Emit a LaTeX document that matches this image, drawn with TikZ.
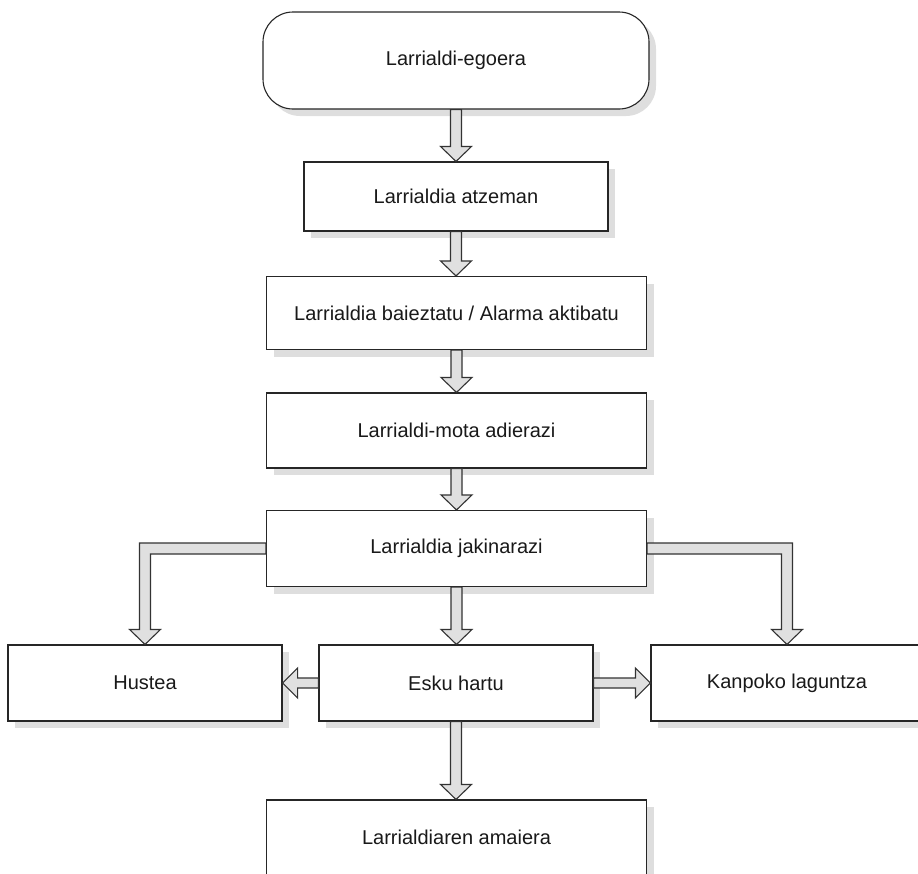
\documentclass[tikz,border=0pt]{standalone}
\usepackage{fontspec}
\setmainfont{Liberation Sans}
\usetikzlibrary{shadows,calc}
\tikzset{
  boxbase/.style={draw=black!85, line width=1.1pt, fill=white, inner sep=0pt, align=center,
    font=\fontsize{20}{24}\selectfont, text=black!90,
    drop shadow={shadow xshift=7pt, shadow yshift=-7pt, fill=black!13, opacity=1}},
  procbox/.style={boxbase, rectangle},
  startbox/.style={boxbase, rectangle, rounded corners=30pt},
  blockarrow/.style={draw=black!80, fill=black!12, line width=1.1pt, line join=miter}
}
\newcommand\vblk[2]{%
  \draw[blockarrow] let \p1=(#1.south), \p2=(#2.north) in
    ({\x1-5.5pt},{\y1}) -- ({\x1-5.5pt},{\y2+15pt}) -- ({\x1-15.5pt},{\y2+15pt}) --
    ({\x1},{\y2}) -- ({\x1+15.5pt},{\y2+15pt}) -- ({\x1+5.5pt},{\y2+15pt}) --
    ({\x1+5.5pt},{\y1}) -- cycle;}
\begin{document}
\begin{tikzpicture}[x=1pt, y=-1pt]
\useasboundingbox (0,0) rectangle (918,873);
\clip (0,0) rectangle (918,873);

\node[startbox, minimum width=386pt, minimum height=97pt] (n1) at (456,60.5) {Larrialdi-egoera};
\node[procbox, minimum width=304pt, minimum height=69pt] (n2) at (456,196.5) {Larrialdia atzeman};
\node[procbox, minimum width=380pt, minimum height=73pt] (n3) at (456.5,313) {Larrialdia baieztatu / Alarma aktibatu};
\node[procbox, minimum width=380pt, minimum height=75pt] (n4) at (456.5,430.5) {Larrialdi-mota adierazi};
\node[procbox, minimum width=380pt, minimum height=76pt] (n5) at (456.5,548.5) {Larrialdia jakinarazi};
\node[procbox, minimum width=274pt, minimum height=76pt] (hus) at (145,683) {Hustea};
\node[procbox, minimum width=274pt, minimum height=76pt] (esk) at (456,683) {Esku hartu};
\node[procbox, minimum width=272pt, minimum height=76pt] (kan) at (787,683) {Kanpoko laguntza};
\node[procbox, minimum width=380pt, minimum height=75pt] (fin) at (456.5,837.5) {Larrialdiaren amaiera};

\vblk{n1}{n2}
\vblk{n2}{n3}
\vblk{n3}{n4}
\vblk{n4}{n5}
\vblk{n5}{esk}
\vblk{esk}{fin}

% elbow arrows
\draw[blockarrow] let \p1=(n5.west), \p2=(hus.north) in
  ({\x1},{\y1+5.5pt}) -- ({\x2-5.5pt},{\y1+5.5pt}) -- ({\x2-5.5pt},{\y2+15pt}) --
  ({\x2-15.5pt},{\y2+15pt}) -- ({\x2},{\y2}) -- ({\x2+15.5pt},{\y2+15pt}) --
  ({\x2+5.5pt},{\y2+15pt}) -- ({\x2+5.5pt},{\y1-5.5pt}) -- ({\x1},{\y1-5.5pt}) -- cycle;
\draw[blockarrow] let \p1=(n5.east), \p2=(kan.north) in
  ({\x1},{\y1+5.5pt}) -- ({\x2+5.5pt},{\y1+5.5pt}) -- ({\x2+5.5pt},{\y2+15pt}) --
  ({\x2+15.5pt},{\y2+15pt}) -- ({\x2},{\y2}) -- ({\x2-15.5pt},{\y2+15pt}) --
  ({\x2-5.5pt},{\y2+15pt}) -- ({\x2-5.5pt},{\y1-5.5pt}) -- ({\x1},{\y1-5.5pt}) -- cycle;

% horizontal arrows
\draw[blockarrow] let \p1=(esk.west), \p2=(hus.east) in
  ({\x1},{\y1+5pt}) -- ({\x2+15pt},{\y1+5pt}) -- ({\x2+15pt},{\y1+15pt}) --
  ({\x2},{\y1}) -- ({\x2+15pt},{\y1-15pt}) -- ({\x2+15pt},{\y1-5pt}) --
  ({\x1},{\y1-5pt}) -- cycle;
\draw[blockarrow] let \p1=(esk.east), \p2=(kan.west) in
  ({\x1},{\y1+5pt}) -- ({\x2-15pt},{\y1+5pt}) -- ({\x2-15pt},{\y1+15pt}) --
  ({\x2},{\y1}) -- ({\x2-15pt},{\y1-15pt}) -- ({\x2-15pt},{\y1-5pt}) --
  ({\x1},{\y1-5pt}) -- cycle;
\end{tikzpicture}
\end{document}
